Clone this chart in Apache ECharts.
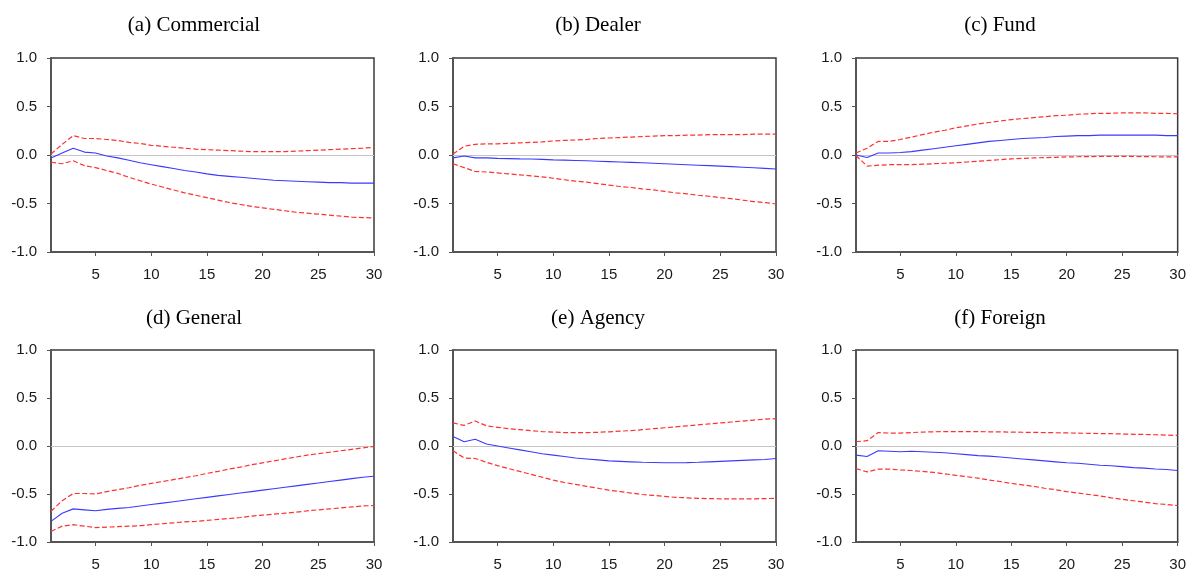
<!DOCTYPE html>
<html>
<head>
<meta charset="utf-8">
<script src="https://cdn.jsdelivr.net/npm/echarts@6/dist/echarts.min.js"></script>
<style>
  html, body { margin: 0; padding: 0; background: #fff; }
  #chart { width: 1189px; height: 572px; }
</style>
</head>
<body>
<div id="chart"></div>
<script>
// Periods
const periods = Array.from({length: 30}, (_, i) => String(i + 1));
const yTicks = [-1.0, -0.5, 0.0, 0.5, 1.0];
const titles = ['(a) Commercial', '(b) Dealer', '(c) Fund', '(d) General', '(e) Agency', '(f) Foreign'];

// (a) Commercial
const commercialMid = [-0.03, 0.02, 0.07, 0.03, 0.02, -0.01, -0.03, -0.055, -0.08, -0.10, -0.12, -0.14, -0.16, -0.175, -0.195, -0.21, -0.22, -0.23, -0.24, -0.25, -0.26, -0.265, -0.27, -0.275, -0.28, -0.285, -0.285, -0.29, -0.29, -0.29];
const commercialUp = [0.01, 0.11, 0.20, 0.17, 0.17, 0.16, 0.15, 0.13, 0.12, 0.10, 0.09, 0.08, 0.07, 0.06, 0.055, 0.05, 0.045, 0.04, 0.035, 0.035, 0.035, 0.035, 0.04, 0.045, 0.05, 0.055, 0.06, 0.065, 0.07, 0.08];
const commercialLo = [-0.075, -0.09, -0.06, -0.11, -0.13, -0.16, -0.19, -0.23, -0.265, -0.30, -0.33, -0.36, -0.39, -0.415, -0.44, -0.465, -0.49, -0.51, -0.53, -0.545, -0.56, -0.575, -0.59, -0.60, -0.61, -0.62, -0.63, -0.64, -0.645, -0.65];

// (b) Dealer
const dealerMid = [-0.03, -0.01, -0.03, -0.03, -0.035, -0.037, -0.04, -0.042, -0.045, -0.05, -0.053, -0.056, -0.06, -0.064, -0.068, -0.072, -0.076, -0.08, -0.085, -0.09, -0.095, -0.1, -0.105, -0.11, -0.115, -0.12, -0.126, -0.132, -0.138, -0.145];
const dealerUp = [0.01, 0.09, 0.11, 0.115, 0.115, 0.12, 0.125, 0.13, 0.135, 0.145, 0.15, 0.155, 0.16, 0.17, 0.175, 0.18, 0.185, 0.19, 0.195, 0.2, 0.2, 0.205, 0.205, 0.21, 0.21, 0.21, 0.21, 0.215, 0.215, 0.215];
const dealerLo = [-0.09, -0.13, -0.17, -0.175, -0.185, -0.195, -0.205, -0.215, -0.225, -0.24, -0.255, -0.27, -0.28, -0.295, -0.31, -0.325, -0.335, -0.35, -0.36, -0.375, -0.39, -0.40, -0.415, -0.425, -0.44, -0.45, -0.465, -0.48, -0.49, -0.505];

// (c) Fund
const fundMid = [0.0, -0.025, 0.02, 0.02, 0.025, 0.035, 0.05, 0.065, 0.08, 0.095, 0.11, 0.125, 0.14, 0.15, 0.16, 0.17, 0.175, 0.18, 0.19, 0.195, 0.2, 0.2, 0.205, 0.205, 0.205, 0.205, 0.205, 0.205, 0.2, 0.2];
const fundUp = [0.02, 0.07, 0.14, 0.14, 0.16, 0.185, 0.21, 0.235, 0.255, 0.28, 0.3, 0.32, 0.335, 0.35, 0.365, 0.375, 0.385, 0.395, 0.405, 0.41, 0.42, 0.425, 0.43, 0.43, 0.435, 0.435, 0.435, 0.43, 0.43, 0.425];
const fundLo = [-0.005, -0.115, -0.105, -0.10, -0.10, -0.10, -0.095, -0.09, -0.085, -0.08, -0.072, -0.064, -0.056, -0.048, -0.04, -0.035, -0.03, -0.027, -0.024, -0.02, -0.018, -0.016, -0.015, -0.015, -0.015, -0.015, -0.017, -0.018, -0.019, -0.02];

// (d) General
const generalMid = [-0.785, -0.70, -0.655, -0.665, -0.675, -0.66, -0.65, -0.64, -0.625, -0.61, -0.595, -0.58, -0.565, -0.55, -0.535, -0.52, -0.505, -0.49, -0.475, -0.46, -0.445, -0.43, -0.415, -0.40, -0.385, -0.37, -0.355, -0.34, -0.325, -0.315];
const generalUp = [-0.68, -0.57, -0.495, -0.495, -0.50, -0.475, -0.455, -0.435, -0.41, -0.39, -0.37, -0.35, -0.33, -0.31, -0.285, -0.265, -0.24, -0.22, -0.195, -0.175, -0.155, -0.135, -0.115, -0.095, -0.08, -0.065, -0.05, -0.035, -0.02, -0.005];
const generalLo = [-0.89, -0.835, -0.82, -0.835, -0.85, -0.845, -0.84, -0.835, -0.83, -0.82, -0.81, -0.80, -0.79, -0.785, -0.775, -0.765, -0.755, -0.745, -0.73, -0.72, -0.71, -0.70, -0.69, -0.675, -0.665, -0.655, -0.645, -0.635, -0.625, -0.62];

// (e) Agency
const agencyMid = [0.10, 0.045, 0.07, 0.02, 0.0, -0.02, -0.04, -0.06, -0.08, -0.095, -0.11, -0.125, -0.135, -0.145, -0.155, -0.16, -0.165, -0.17, -0.172, -0.175, -0.175, -0.173, -0.17, -0.165, -0.16, -0.155, -0.15, -0.145, -0.14, -0.13];
const agencyUp = [0.24, 0.215, 0.26, 0.21, 0.195, 0.18, 0.17, 0.16, 0.15, 0.145, 0.14, 0.14, 0.14, 0.142, 0.148, 0.155, 0.16, 0.17, 0.18, 0.19, 0.2, 0.21, 0.22, 0.23, 0.24, 0.25, 0.26, 0.27, 0.28, 0.285];
const agencyLo = [-0.05, -0.125, -0.13, -0.17, -0.205, -0.235, -0.265, -0.295, -0.325, -0.355, -0.38, -0.40, -0.42, -0.44, -0.46, -0.475, -0.49, -0.505, -0.515, -0.525, -0.535, -0.54, -0.545, -0.548, -0.55, -0.55, -0.55, -0.55, -0.548, -0.545];

// (f) Foreign
const foreignMid = [-0.095, -0.11, -0.05, -0.055, -0.06, -0.055, -0.06, -0.065, -0.07, -0.08, -0.09, -0.10, -0.105, -0.115, -0.125, -0.135, -0.145, -0.155, -0.165, -0.175, -0.18, -0.19, -0.2, -0.205, -0.215, -0.225, -0.23, -0.24, -0.245, -0.255];
const foreignUp = [0.045, 0.055, 0.14, 0.135, 0.135, 0.14, 0.145, 0.148, 0.15, 0.15, 0.15, 0.15, 0.148, 0.147, 0.145, 0.143, 0.142, 0.14, 0.138, 0.136, 0.134, 0.132, 0.13, 0.128, 0.125, 0.122, 0.12, 0.117, 0.114, 0.11];
const foreignLo = [-0.235, -0.27, -0.24, -0.24, -0.25, -0.255, -0.265, -0.275, -0.29, -0.305, -0.32, -0.335, -0.355, -0.37, -0.39, -0.405, -0.42, -0.44, -0.455, -0.475, -0.49, -0.505, -0.52, -0.54, -0.555, -0.57, -0.585, -0.6, -0.61, -0.62];

const panels = [
  [commercialMid, commercialUp, commercialLo],
  [dealerMid, dealerUp, dealerLo],
  [fundMid, fundUp, fundLo],
  [generalMid, generalUp, generalLo],
  [agencyMid, agencyUp, agencyLo],
  [foreignMid, foreignUp, foreignLo]
];

// Layout
const gridLefts = [51, 453, 856];
const gridWidth = 323;
const gridTops = [58, 350];
const gridHeight = 194;
const titleX = [194, 598, 1000];
const titleY = [25, 318];

const grids = [], xAxes = [], yAxes = [], series = [], graphics = [];
const showEvery5 = (idx) => (idx + 1) % 5 === 0;

panels.forEach((p, i) => {
  const col = i % 3, row = Math.floor(i / 3);
  grids.push({
    left: gridLefts[col], top: gridTops[row], width: gridWidth, height: gridHeight,
    show: true, borderColor: '#3a3a3a', borderWidth: 1.5, backgroundColor: 'transparent'
  });
  xAxes.push({
    type: 'category', gridIndex: i, data: periods, boundaryGap: false,
    axisLine: { show: true, onZero: false, lineStyle: { color: '#555', width: 2 } },
    axisTick: { show: true, interval: showEvery5, length: 4, lineStyle: { color: '#555', width: 1 } },
    axisLabel: { interval: showEvery5, color: '#1a1a1a', fontSize: 15, fontFamily: 'Liberation Sans', margin: 15 },
    splitLine: { show: false }
  });
  yAxes.push({
    type: 'value', gridIndex: i, min: -1, max: 1, interval: 0.5,
    axisLine: { show: true, onZero: false, lineStyle: { color: '#555', width: 2 } },
    axisTick: { show: true, length: 4, lineStyle: { color: '#555', width: 1 } },
    axisLabel: { color: '#1a1a1a', fontSize: 15, fontFamily: 'Liberation Sans', margin: 14,
      formatter: v => v.toFixed(1) },
    splitLine: { show: false }
  });
  series.push({
    type: 'line', xAxisIndex: i, yAxisIndex: i, data: p[0], symbol: 'none',
    lineStyle: { color: '#3a3aff', width: 1.1 }, z: 3, silent: true,
    markLine: {
      silent: true, symbol: 'none', label: { show: false },
      lineStyle: { color: '#c4c4c4', type: 'solid', width: 1 },
      data: [{ yAxis: 0 }], z: 1
    }
  });
  series.push({
    type: 'line', xAxisIndex: i, yAxisIndex: i, data: p[1], symbol: 'none',
    lineStyle: { color: '#ff3030', width: 1.2, type: [5, 2.5] }, z: 2, silent: true
  });
  series.push({
    type: 'line', xAxisIndex: i, yAxisIndex: i, data: p[2], symbol: 'none',
    lineStyle: { color: '#ff3030', width: 1.2, type: [5, 2.5] }, z: 2, silent: true
  });
  graphics.push({
    type: 'text', x: titleX[col], y: titleY[row],
    style: { text: titles[i], font: '21px "Liberation Serif"', fill: '#000',
      align: 'center', verticalAlign: 'middle', textAlign: 'center', textVerticalAlign: 'middle' }
  });
});

const chart = echarts.init(document.getElementById('chart'), null, { renderer: 'canvas' });
chart.setOption({
  animation: false,
  backgroundColor: '#fff',
  grid: grids, xAxis: xAxes, yAxis: yAxes, series: series, graphic: graphics
});
</script>
</body>
</html>
